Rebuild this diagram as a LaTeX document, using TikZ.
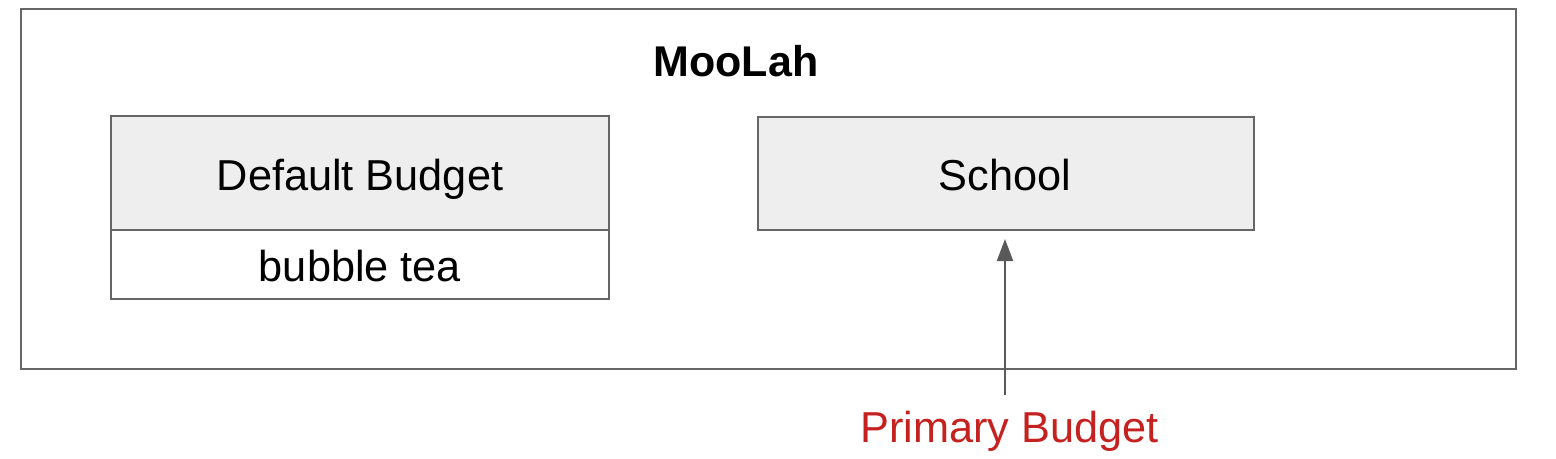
\documentclass[tikz,border=0pt]{standalone}
\usepackage{fontspec}
\setmainfont{Liberation Sans}
\usetikzlibrary{arrows.meta}
\definecolor{edge}{HTML}{666666}
\definecolor{boxfill}{HTML}{EEEEEE}
\definecolor{arrowgray}{HTML}{595959}
\definecolor{primred}{HTML}{C5221F}
\begin{document}
\begin{tikzpicture}[x=1pt,y=-1pt,
  frame/.style={draw=edge,line width=2.5pt,fill=white},
  budgetbox/.style={draw=edge,line width=2pt,fill=boxfill},
  itembox/.style={draw=edge,line width=2pt,fill=white},
  txt/.style={anchor=base,inner sep=0pt,font=\fontsize{43.3}{50}\selectfont},
  ttl/.style={anchor=base,inner sep=0pt,font=\fontsize{43}{50}\selectfont\bfseries},
  conn/.style={draw=arrowgray,line width=2pt,-{Triangle[width=16pt,length=22pt]}}]
\useasboundingbox (0,0) rectangle (1556,458);
\fill[white] (0,0) rectangle (1556,458);
\draw[frame] (21,9) rectangle (1516,369);
\node[ttl] (moolah) at (736,76) {MooLah};
% Default budget
\draw[budgetbox] (111,116) rectangle (609,230);
\draw[itembox] (111,230) rectangle (609,299);
\node[txt] (defb) at (360,190) {Default Budget};
\node[txt] (tea) at (360,281) {bubble tea};
% School
\node[budgetbox,minimum width=496pt,minimum height=113pt,inner sep=0pt,anchor=north west] (school) at (756.5,116) {};
\node[txt] (schooltxt) at (1005,190) {School};
% Label and arrow
\node[txt,text=primred] (primary) at (1009.5,442) {Primary Budget};
\coordinate (astart) at (1005,395);
\draw[conn,shorten >=8pt] (astart) -- (astart |- school.south);
\end{tikzpicture}
\end{document}
